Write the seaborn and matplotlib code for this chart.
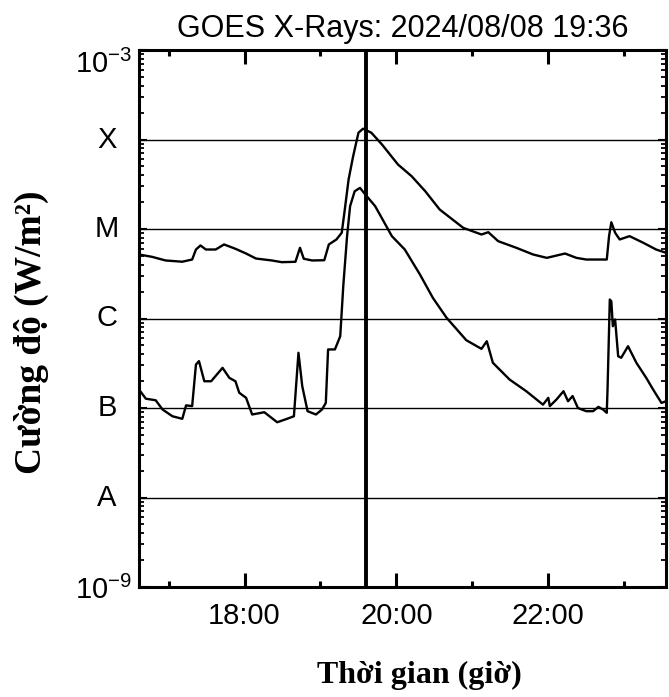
import numpy as np
import pandas as pd
import matplotlib
matplotlib.use("Agg")
import matplotlib.pyplot as plt
import matplotlib.transforms as mtransforms
from matplotlib.ticker import FixedLocator, LogLocator, NullFormatter
import seaborn as sns

# ---------------- data ----------------
# long-wavelength channel (upper curve): time in decimal hours, flux in W/m^2
long_time = [16.61, 16.78, 16.96, 17.18, 17.31, 17.36, 17.42, 17.49, 17.62, 17.73,
             17.88, 18.02, 18.15, 18.36, 18.49, 18.67, 18.73, 18.78, 18.89, 19.05,
             19.11, 19.21, 19.28, 19.32, 19.37, 19.43, 19.50, 19.56, 19.67, 19.81,
             20.02, 20.20, 20.38, 20.57, 20.88, 21.12, 21.21, 21.34, 21.58, 21.80,
             21.98, 22.22, 22.37, 22.50, 22.77, 22.80, 22.83, 22.88, 22.94, 23.07,
             23.25, 23.42, 23.55]
long_flux = [5.19e-6, 4.89e-6, 4.45e-6, 4.31e-6, 4.56e-6, 5.90e-6, 6.55e-6, 5.90e-6, 5.90e-6, 6.72e-6,
             6.01e-6, 5.32e-6, 4.68e-6, 4.45e-6, 4.26e-6, 4.30e-6, 6.17e-6, 4.65e-6, 4.45e-6, 4.48e-6,
             6.72e-6, 7.64e-6, 9.08e-6, 1.65e-5, 3.57e-5, 6.50e-5, 1.19e-4, 1.32e-4, 1.19e-4, 8.79e-5,
             5.26e-5, 3.89e-5, 2.64e-5, 1.65e-5, 1.03e-5, 8.68e-6, 9.21e-6, 7.31e-6, 6.16e-6, 5.19e-6,
             4.76e-6, 5.32e-6, 4.76e-6, 4.56e-6, 4.56e-6, 8.32e-6, 1.19e-5, 9.08e-6, 7.64e-6, 8.32e-6,
             7.02e-6, 5.90e-6, 5.42e-6]

# short-wavelength channel (lower curve)
short_time = [16.61, 16.70, 16.83, 16.92, 17.05, 17.18, 17.23, 17.31, 17.36, 17.40,
              17.47, 17.56, 17.71, 17.80, 17.88, 17.93, 18.02, 18.10, 18.26, 18.43,
              18.56, 18.65, 18.71, 18.76, 18.83, 18.94, 19.02, 19.07, 19.10, 19.19,
              19.26, 19.30, 19.35, 19.39, 19.45, 19.52, 19.59, 19.72, 19.94, 20.11,
              20.31, 20.48, 20.66, 20.92, 21.12, 21.19, 21.27, 21.49, 21.71, 21.93,
              22.00, 22.02, 22.11, 22.20, 22.26, 22.32, 22.39, 22.50, 22.59, 22.66,
              22.72, 22.77, 22.78, 22.81, 22.83, 22.85, 22.88, 22.92, 22.96, 23.05,
              23.16, 23.29, 23.38, 23.49, 23.55]
short_flux = [1.61e-7, 1.27e-7, 1.22e-7, 9.62e-8, 8.09e-8, 7.57e-8, 1.07e-7, 1.05e-7, 3.06e-7, 3.34e-7,
              1.99e-7, 1.99e-7, 2.81e-7, 2.17e-7, 1.99e-7, 1.48e-7, 1.30e-7, 8.46e-8, 8.97e-8, 6.93e-8,
              7.57e-8, 8.09e-8, 4.14e-7, 1.75e-7, 9.21e-8, 8.46e-8, 9.62e-8, 1.14e-7, 4.51e-7, 4.51e-7,
              6.34e-7, 2.30e-6, 8.32e-6, 1.80e-5, 2.64e-5, 2.88e-5, 2.43e-5, 1.80e-5, 8.32e-6, 5.90e-6,
              3.10e-6, 1.70e-6, 1.02e-6, 5.72e-7, 4.58e-7, 5.57e-7, 3.20e-7, 2.08e-7, 1.54e-7, 1.09e-7,
              1.30e-7, 1.05e-7, 1.25e-7, 1.54e-7, 1.19e-7, 1.36e-7, 1.00e-7, 9.21e-8, 9.21e-8, 1.03e-7,
              9.62e-8, 8.83e-8, 1.61e-7, 1.63e-6, 1.56e-6, 8.20e-7, 9.75e-7, 3.79e-7, 3.64e-7, 4.90e-7,
              3.20e-7, 2.17e-7, 1.61e-7, 1.14e-7, 1.19e-7]

class_letters = ["A", "B", "C", "M", "X"]
class_levels = [1e-8, 1e-7, 1e-6, 1e-5, 1e-4]

y_edge_ticks = [1e-9, 1e-3]
y_edge_labels = ["$10^{-9}$", "$10^{-3}$"]

x_major_hours = [18, 20, 22]
x_major_labels = ["18:00", "20:00", "22:00"]
x_minor_hours = [17, 19, 21, 23]
x_range = [16.61, 23.55]

marker_time = 19.6
title_text = "GOES X-Rays: 2024/08/08 19:36"
x_label = "Thời gian (giờ)"
y_label = "Cường độ (W/m²)"

# ---------------- style ----------------
sns.set_theme(style="ticks")
plt.rcParams["font.family"] = ["Liberation Sans", "DejaVu Sans"]
plt.rcParams["mathtext.fontset"] = "custom"
plt.rcParams["mathtext.rm"] = "Liberation Sans"
plt.rcParams["mathtext.it"] = "Liberation Sans:italic"
plt.rcParams["mathtext.bf"] = "Liberation Sans:bold"
plt.rcParams["text.color"] = "black"
plt.rcParams["axes.labelcolor"] = "black"
plt.rcParams["xtick.color"] = "black"
plt.rcParams["ytick.color"] = "black"

fig = plt.figure(figsize=(6.69, 6.97), dpi=100)
ax = fig.add_axes([139 / 669, (697 - 587) / 697, (666 - 139) / 669, (587 - 50) / 697])

df_long = pd.DataFrame({"time": long_time, "flux": long_flux})
df_short = pd.DataFrame({"time": short_time, "flux": short_flux})

for level in class_levels:
    ax.axhline(level, color="black", lw=1.0, zorder=1)

sns.lineplot(data=df_long, x="time", y="flux", ax=ax, color="black", lw=1.7,
             estimator=None, sort=False, legend=False, zorder=3)
sns.lineplot(data=df_short, x="time", y="flux", ax=ax, color="black", lw=1.7,
             estimator=None, sort=False, legend=False, zorder=3)

ax.axvline(marker_time, color="black", lw=2.8, zorder=4)

ax.set_yscale("log")
ax.set_ylim(1e-9, 1e-3)
ax.set_xlim(*x_range)

# y ticks
decades = sorted(y_edge_ticks + class_levels)
ax.yaxis.set_major_locator(FixedLocator(decades))
ylabels = []
for d in decades:
    if d in y_edge_ticks:
        ylabels.append(y_edge_labels[y_edge_ticks.index(d)])
    else:
        ylabels.append("")
ax.set_yticklabels(ylabels)
ax.yaxis.set_minor_locator(LogLocator(base=10, subs=np.arange(2, 10), numticks=20))
ax.yaxis.set_minor_formatter(NullFormatter())

# x ticks
ax.xaxis.set_major_locator(FixedLocator(x_major_hours))
ax.set_xticklabels(x_major_labels)
ax.xaxis.set_minor_locator(FixedLocator(x_minor_hours))

ax.tick_params(axis="x", which="major", direction="in", length=10, width=2.2,
               top=True, bottom=True, labelsize=21, pad=11)
ax.tick_params(axis="x", which="minor", direction="in", length=4.5, width=2.2,
               top=True, bottom=True)
ax.tick_params(axis="y", which="major", direction="in", length=6, width=1.5,
               left=True, right=True, labelsize=21, pad=5)
ax.tick_params(axis="y", which="minor", direction="in", length=3.5, width=1.3,
               left=True, right=True)

ticks = ax.yaxis.get_major_ticks()
ticks[-1].label1.set_va("top")

for sp in ax.spines.values():
    sp.set_linewidth(2.2)
    sp.set_color("black")

# flare class letters
blend = mtransforms.blended_transform_factory(ax.transAxes, ax.transData)
for letter, level in zip(class_letters, class_levels):
    ax.text(-0.0607, level, letter, transform=blend, ha="center", va="center",
            fontsize=21, color="black")

ax.set_title(title_text, fontsize=22, pad=9, color="black")

ax.set_xlabel(x_label, fontfamily=["Liberation Serif", "DejaVu Serif"],
              fontweight="bold", fontsize=23)
ax.xaxis.set_label_coords(0.5327, -0.1793)
ax.xaxis.label.set_va("baseline")

ax.set_ylabel(y_label, fontfamily=["Liberation Serif", "DejaVu Serif"],
              fontweight="bold", fontsize=27)
ax.yaxis.set_label_coords(-0.204, 0.474)
ax.yaxis.label.set_va("center")

fig.savefig("out.png", dpi=100, facecolor="white")
